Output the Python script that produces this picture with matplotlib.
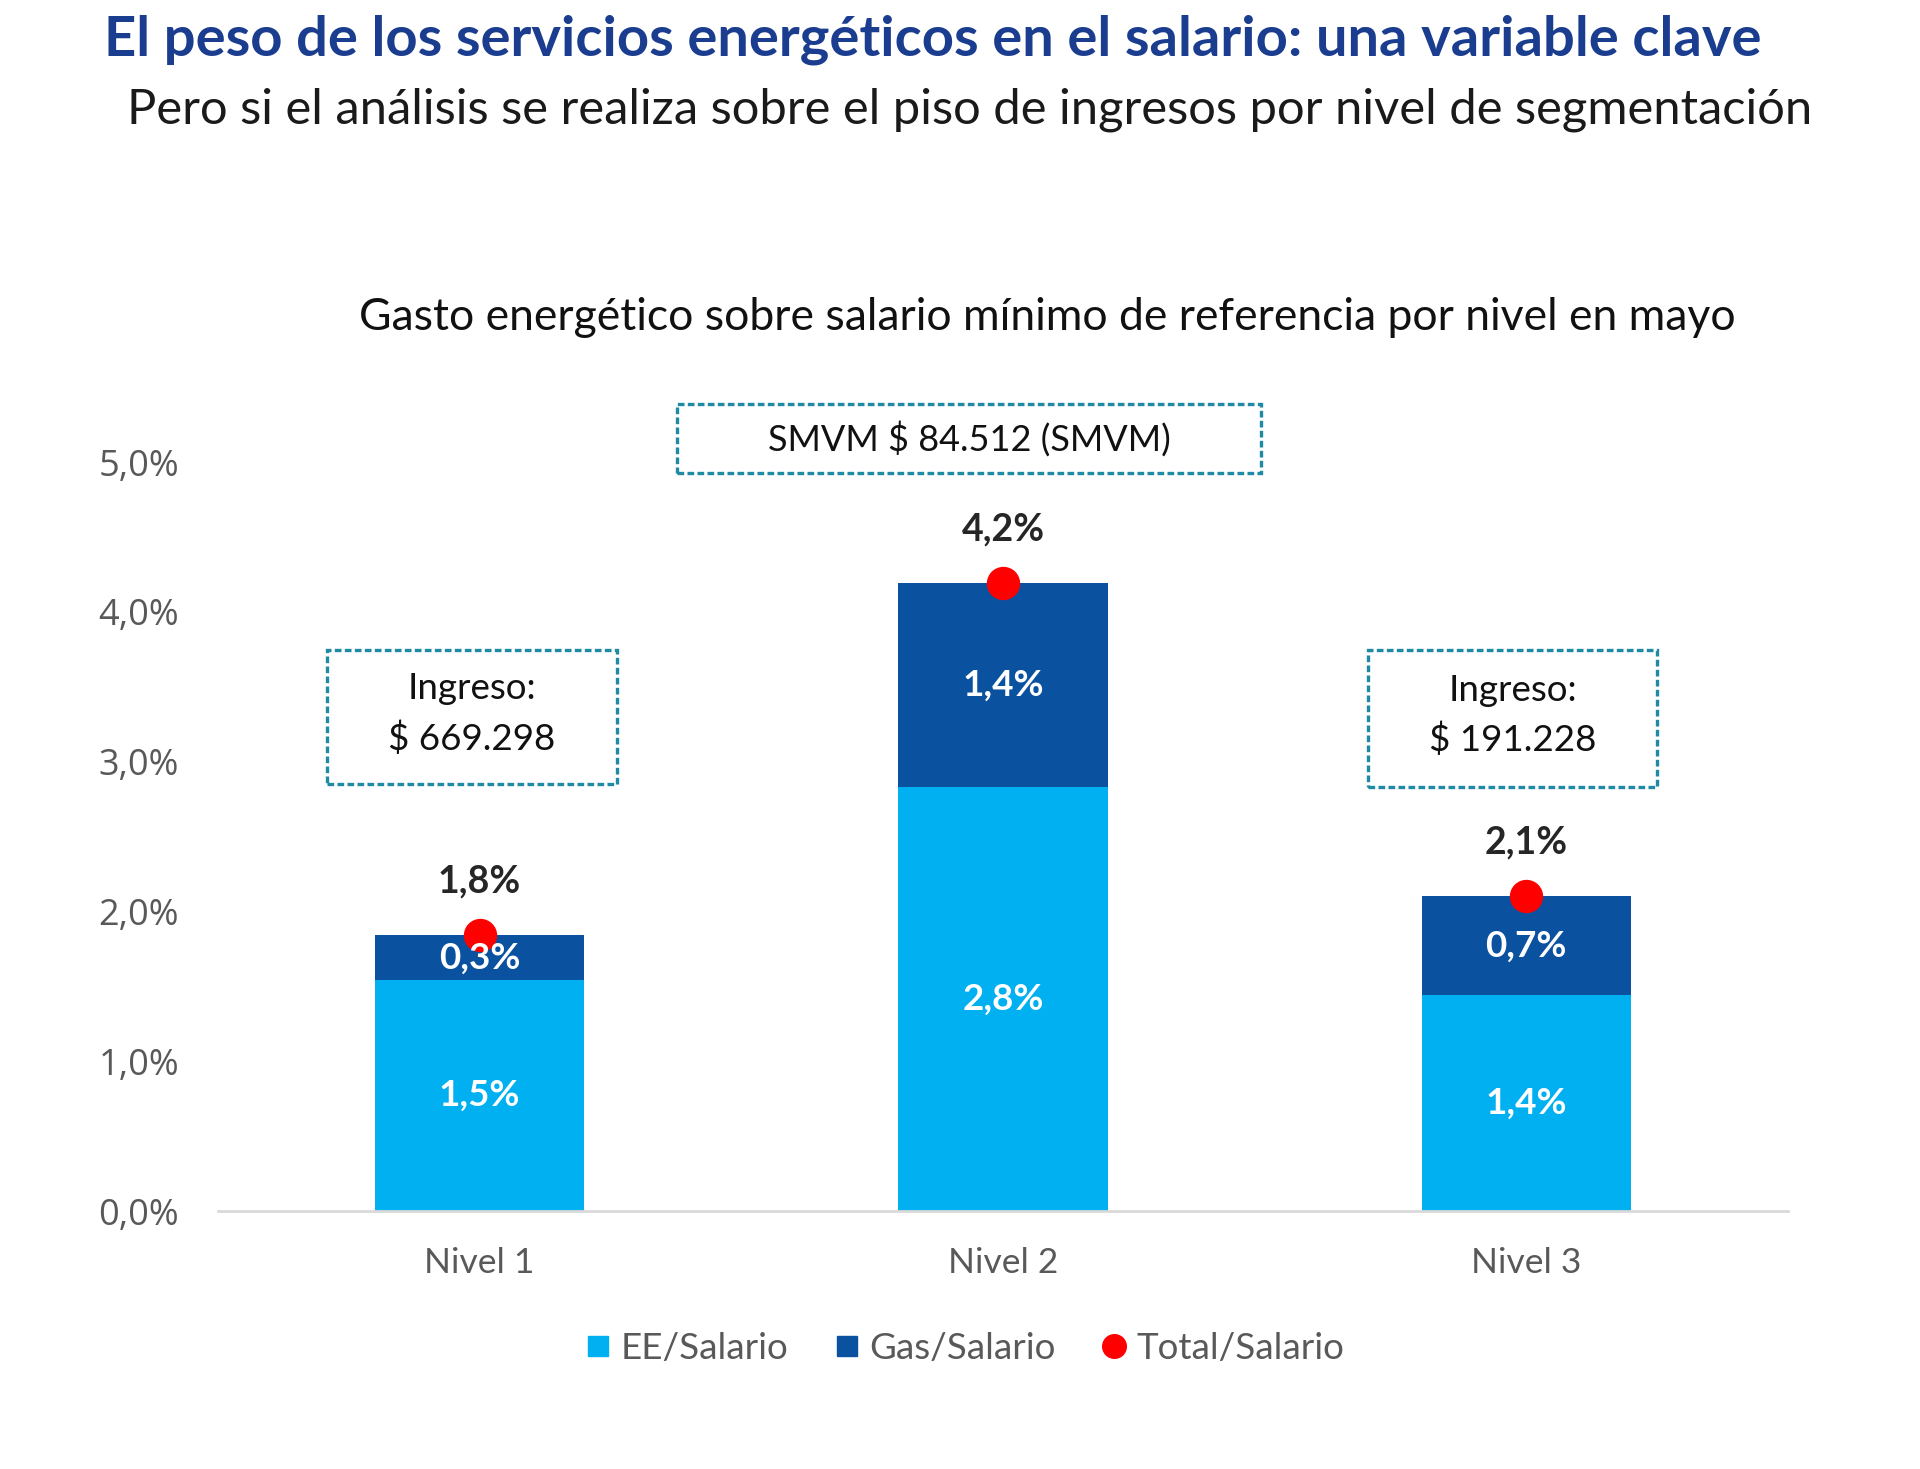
import matplotlib
matplotlib.use("Agg")
import matplotlib.pyplot as plt
from matplotlib.patches import Rectangle
from matplotlib.lines import Line2D
from matplotlib.ticker import FuncFormatter, MultipleLocator

# ---- data ----
categories = ["Nivel 1", "Nivel 2", "Nivel 3"]
ee_salario = [1.54, 2.83, 1.44]
gas_salario = [0.30, 1.36, 0.66]
total_salario = [1.84, 4.19, 2.10]
series_names = ["EE/Salario", "Gas/Salario", "Total/Salario"]
ingreso_labels = ["Ingreso:\n$ 669.298", None, "Ingreso:\n$ 191.228"]
smvm_label = "SMVM $ 84.512 (SMVM)"

title = "El peso de los servicios energéticos en el salario: una variable clave"
subtitle = "Pero si el análisis se realiza sobre el piso de ingresos por nivel de segmentación"
chart_title = "Gasto energético sobre salario mínimo de referencia por nivel en mayo"

C_EE = "#00B0F0"
C_GAS = "#0A52A0"
C_RED = "#FF0000"
C_BOX = "#1F8AA3"
FONT = ["Lato", "DejaVu Sans"]
FONT_TICK = ["Open Sans", "DejaVu Sans"]

fig = plt.figure(figsize=(19.2, 14.69), dpi=100)
fig.patch.set_facecolor("white")
ax = fig.add_axes([0.1135, 0.1756, 0.8177, 0.5099])

x = list(range(len(categories)))
w = 0.40
ax.bar(x, ee_salario, width=w, color=C_EE, label=series_names[0], zorder=2)
ax.bar(x, gas_salario, width=w, bottom=ee_salario, color=C_GAS, label=series_names[1], zorder=2)
ax.plot(x, total_salario, linestyle="none", marker="o", markersize=23, color=C_RED,
        label=series_names[2], zorder=4, clip_on=False)

def pct(v):
    return f"{v:.1f}".replace(".", ",") + "%"

for i in x:
    ax.text(i, ee_salario[i] / 2, pct(ee_salario[i]), ha="center", va="center",
            color="white", fontsize=26.5, fontweight="bold", family=FONT, zorder=5)
    ax.text(i, ee_salario[i] + gas_salario[i] / 2, pct(gas_salario[i]), ha="center", va="center",
            color="white", fontsize=26.5, fontweight="bold", family=FONT, zorder=5)
    ax.annotate(pct(total_salario[i]), (i, total_salario[i]), xytext=(0, 39),
                textcoords="offset points", ha="center", va="center",
                color="#262626", fontsize=27, fontweight="bold", family=FONT, zorder=5,
                annotation_clip=False)

ax.set_xlim(-0.5, 2.5)
ax.set_ylim(0, 5.0)
ax.yaxis.set_major_locator(MultipleLocator(1.0))
ax.yaxis.set_major_formatter(FuncFormatter(lambda v, p: f"{v:.1f}".replace(".", ",") + "%"))
ax.set_xticks(x)
ax.set_xticklabels(categories)
for s in ["top", "right", "left"]:
    ax.spines[s].set_visible(False)
ax.spines["bottom"].set_color("#D9D9D9")
ax.spines["bottom"].set_linewidth(2)
ax.tick_params(axis="both", length=0)
ax.tick_params(axis="y", pad=28, labelsize=26, labelcolor="#595959")
ax.tick_params(axis="x", pad=26, labelsize=25.5, labelcolor="#595959")
for lab in ax.get_yticklabels():
    lab.set_family(FONT_TICK)
for lab in ax.get_xticklabels():
    lab.set_family(FONT)

# ---- titles ----
fig.text(0.054, 0.973, title, ha="left", va="center", fontsize=40.4, fontweight="bold",
         color="#1B3D8F", family=FONT)
fig.text(0.066, 0.925, subtitle, ha="left", va="center", fontsize=35.2, color="#1A1A1A", family=FONT)
fig.text(0.5455, 0.784, chart_title, ha="center", va="center", fontsize=32, color="#111111", family=FONT)

# ---- dashed annotation boxes ----
def dashed_box(x0, y0, bw, bh):
    r = Rectangle((x0, y0), bw, bh, transform=fig.transFigure, fill=False,
                  edgecolor=C_BOX, linewidth=2.4, linestyle=(0, (2.0, 1.0)))
    fig.add_artist(r)

dashed_box(0.3526, 0.678, 0.3042, 0.047)
fig.text(0.3526 + 0.3042 / 2, 0.678 + 0.047 / 2, smvm_label, ha="center", va="center",
         fontsize=26, color="#111111", family=FONT)

boxes = [(0.1703, 0.4663, 0.151, 0.0912), None, (0.7125, 0.4643, 0.1505, 0.0933)]
for lbl, b in zip(ingreso_labels, boxes):
    if lbl is None:
        continue
    dashed_box(*b)
    fig.text(b[0] + b[2] / 2, b[1] + b[3] / 2 + 0.002, lbl, ha="center", va="center",
             fontsize=26.5, color="#111111", family=FONT, linespacing=1.55)

# ---- legend ----
handles = [
    Line2D([0], [0], marker="s", linestyle="none", markersize=15, color=C_EE),
    Line2D([0], [0], marker="s", linestyle="none", markersize=15, color=C_GAS),
    Line2D([0], [0], marker="o", linestyle="none", markersize=17, color=C_RED),
]
leg = fig.legend(handles, series_names, loc="center", bbox_to_anchor=(0.502, 0.0823),
                 ncol=3, frameon=False, handlelength=0.8, handletextpad=0.2, columnspacing=1.2,
                 prop={"family": FONT, "size": 26.5})
for t in leg.get_texts():
    t.set_color("#595959")

fig.savefig("out.png", dpi=100, facecolor="white")
